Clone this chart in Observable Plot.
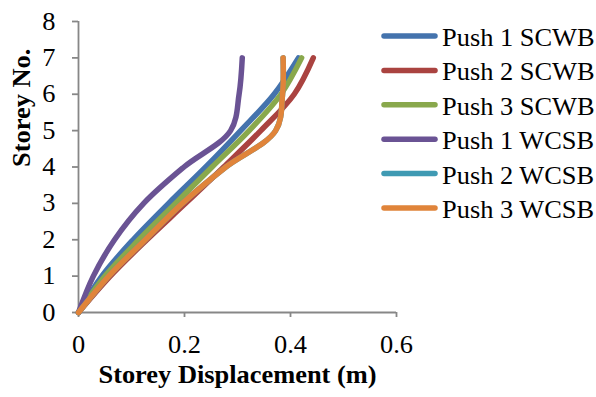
<!DOCTYPE html>
<html>
<head>
<meta charset="utf-8">
<script src="https://cdn.jsdelivr.net/npm/d3@7"></script>
<script src="https://cdn.jsdelivr.net/npm/@observablehq/plot@0.6"></script>
<style>
  html, body { margin: 0; padding: 0; background: white; }
  #chart { width: 596px; height: 397px; }
</style>
</head>
<body>
<div id="chart"></div>
<script>
const storeys = [0, 1, 2, 3, 4, 5, 6, 7];
const seriesNames = ["Push 1 SCWB", "Push 2 SCWB", "Push 3 SCWB", "Push 1 WCSB", "Push 2 WCSB", "Push 3 WCSB"];
const push1SCWB = [0, 0.044, 0.103, 0.170, 0.240, 0.306, 0.369, 0.415];
const push2SCWB = [0, 0.060, 0.129, 0.202, 0.274, 0.344, 0.407, 0.443];
const push3SCWB = [0, 0.050, 0.114, 0.183, 0.252, 0.322, 0.382, 0.421];
const push1WCSB = [0, 0.028, 0.068, 0.123, 0.199, 0.287, 0.303, 0.309];
const push2WCSB = [0, 0.057, 0.126, 0.196, 0.278, 0.372, 0.385, 0.386];
const push3WCSB = [0, 0.057, 0.126, 0.196, 0.278, 0.372, 0.385, 0.386];
const seriesColors = ["#4473AD", "#AA4340", "#89A84C", "#6A5394", "#3F9AB3", "#E0843A"];
const xTicks = [0, 0.2, 0.4, 0.6];
const yTicks = [0, 1, 2, 3, 4, 5, 6, 7, 8];
const xTitle = "Storey Displacement (m)";
const yTitle = "Storey No.";

const allValues = [push1SCWB, push2SCWB, push3SCWB, push1WCSB, push2WCSB, push3WCSB];
const data = seriesNames.flatMap((name, k) =>
  storeys.map((s, i) => ({series: name, x: allValues[k][i], y: s}))
);

const axisGray = "#878787";
const font = "'Liberation Serif', 'Times New Roman', serif";
const fs = 25;

const plot = Plot.plot({
  width: 596,
  height: 397,
  marginLeft: 78,
  marginRight: 200,
  marginTop: 21,
  marginBottom: 85,
  style: {fontFamily: font, fontSize: fs + "px", color: "black", background: "white"},
  x: {domain: [0, 0.6]},
  y: {domain: [0, 8]},
  color: {domain: seriesNames, range: seriesColors},
  marks: [
    Plot.ruleY([0], {stroke: axisGray, strokeWidth: 1.8}),
    Plot.ruleX([0], {stroke: axisGray, strokeWidth: 1.8}),
    Plot.axisX({ticks: xTicks, tickSize: 5, tickPadding: 18, stroke: axisGray, strokeWidth: 1.8, fill: "black", label: null, tickFormat: d => String(d)}),
    Plot.axisY({ticks: yTicks, tickSize: 6, tickPadding: 17, stroke: axisGray, strokeWidth: 1.8, fill: "black", label: null, tickFormat: d => String(d)}),
    Plot.line(data, {x: "x", y: "y", z: "series", stroke: "series", strokeWidth: 5.5, curve: "catmull-rom", strokeLinecap: "round", strokeLinejoin: "round"}),
    Plot.text([xTitle], {frameAnchor: "bottom", dy: 70, fontWeight: "bold", fontSize: fs, fill: "black"}),
    Plot.text([yTitle], {frameAnchor: "left", dx: -57, rotate: -90, fontWeight: "bold", fontSize: fs, fill: "black"})
  ]
});

document.getElementById("chart").appendChild(plot);

// legend
const svg = d3.select(plot);
const lg = svg.append("g").attr("class", "legend").attr("text-anchor", "start");
seriesNames.forEach((name, i) => {
  const cy = 36 + i * 34.4;
  lg.append("line")
    .attr("x1", 384).attr("x2", 435).attr("y1", cy).attr("y2", cy)
    .attr("stroke", seriesColors[i]).attr("stroke-width", 5.5).attr("stroke-linecap", "round");
  lg.append("text")
    .attr("x", 442).attr("y", cy).attr("dy", 10)
    .attr("text-anchor", "start")
    .attr("font-family", font).attr("font-size", fs).attr("fill", "black")
    .text(name);
});

// widen text slightly horizontally to match the reference's proportions
svg.selectAll("text").each(function() {
  const len = this.getComputedTextLength();
  if (len > 0) {
    this.setAttribute("textLength", (len * 1.056).toFixed(1));
    this.setAttribute("lengthAdjust", "spacingAndGlyphs");
  }
});
</script>
</body>
</html>
